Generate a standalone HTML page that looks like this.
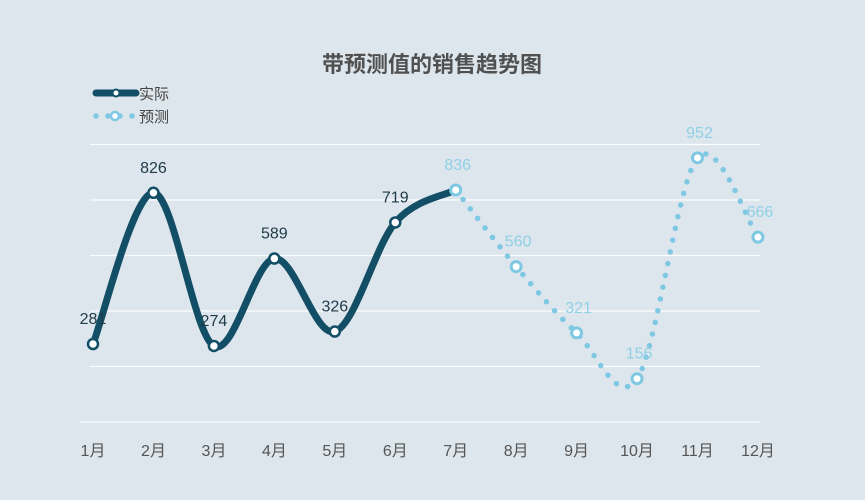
<!DOCTYPE html>
<html><head><meta charset="utf-8"><style>
body{margin:0;background:#dde6ec;}
svg{display:block;font-family:"Liberation Sans","Noto Sans CJK SC",sans-serif;}
</style></head><body>
<svg width="865" height="500" viewBox="0 0 865 500">
<rect width="865" height="500" fill="#dde6ec"/>
<g stroke="#ffffff" stroke-width="1.2" opacity="0.9">
<line x1="90" x2="760" y1="144.5" y2="144.5"/>
<line x1="90" x2="760" y1="200" y2="200"/>
<line x1="90" x2="760" y1="255.5" y2="255.5"/>
<line x1="90" x2="760" y1="311" y2="311"/>
<line x1="90" x2="760" y1="366.5" y2="366.5"/>
<line x1="80" x2="760" y1="422" y2="422"/>
</g>
<text x="432" y="72" text-anchor="middle" font-size="22" font-weight="bold" fill="#505050">带预测值的销售趋势图</text>
<line x1="96" y1="93" x2="136" y2="93" stroke="#124e66" stroke-width="7" stroke-linecap="round"/>
<circle cx="116" cy="93" r="3.5" fill="#fff" stroke="#124e66" stroke-width="2"/>
<text x="139" y="99" font-size="15" fill="#444">实际</text>
<line x1="96" y1="116" x2="136" y2="116" stroke="#7ec8e3" stroke-width="5.5" stroke-linecap="round" stroke-dasharray="0 12"/>
<circle cx="115" cy="116" r="4" fill="#fff" stroke="#7ec8e3" stroke-width="2.5"/>
<text x="139" y="122" font-size="15" fill="#444">预测</text>
<path id="a" fill="none" stroke="#124e66" stroke-width="7" stroke-linecap="round"/>
<path id="f" fill="none" stroke="#7ec8e3" stroke-width="5.5" stroke-linecap="round" stroke-dasharray="0 12"/>
<g id="pts"></g>
<g id="labs" font-size="16"></g>
<g font-size="16" fill="#555" text-anchor="middle">
<text x="93" y="456">1月</text><text x="153.5" y="456">2月</text><text x="214" y="456">3月</text><text x="274.4" y="456">4月</text><text x="334.8" y="456">5月</text><text x="395.3" y="456">6月</text><text x="455.7" y="456">7月</text><text x="516.2" y="456">8月</text><text x="576.6" y="456">9月</text><text x="637" y="456">10月</text><text x="697.5" y="456">11月</text><text x="758" y="456">12月</text>
</g>
</svg>
<script>
var X=function(i){return 93+60.45*i},Y=function(v){return 422-v*0.2775};
var act=[281,826,274,589,326,719,836],fc=[836,560,321,156,952,666];
function path(pts){var d="M"+pts[0][0]+","+pts[0][1];for(var i=0;i<pts.length-1;i++){var p0=pts[i-1]||pts[i],p1=pts[i],p2=pts[i+1],p3=pts[i+2]||p2,t=6;
d+=" C"+(p1[0]+(p2[0]-p0[0])/t)+","+(p1[1]+(p2[1]-p0[1])/t)+" "+(p2[0]-(p3[0]-p1[0])/t)+","+(p2[1]-(p3[1]-p1[1])/t)+" "+p2[0]+","+p2[1];}return d;}
var ap=act.map(function(v,i){return[X(i),Y(v)]}),fp=fc.map(function(v,i){return[X(i+6),Y(v)]});
document.getElementById('a').setAttribute('d',path(ap));
document.getElementById('f').setAttribute('d',path(fp));
var ns="http://www.w3.org/2000/svg",g=document.getElementById('pts'),L=document.getElementById('labs');
function c(x,y,col,w){var e=document.createElementNS(ns,'circle');e.setAttribute('cx',x);e.setAttribute('cy',y);e.setAttribute('r',5);e.setAttribute('fill','#fff');e.setAttribute('stroke',col);e.setAttribute('stroke-width',w);g.appendChild(e);}
function t(x,y,s,col){var e=document.createElementNS(ns,'text');e.setAttribute('x',x);e.setAttribute('y',y);e.setAttribute('fill',col);e.setAttribute('text-anchor','middle');e.textContent=s;L.appendChild(e);}
for(var i=0;i<6;i++){c(ap[i][0],ap[i][1],'#124e66',2.5);t(ap[i][0],ap[i][1]-20,act[i],'#1f3a48');}
for(var j=0;j<6;j++){c(fp[j][0],fp[j][1],'#7ec8e3',3);t(fp[j][0]+2,fp[j][1]-20,fc[j],'#8fd0e6');}
</script>
</body></html>
